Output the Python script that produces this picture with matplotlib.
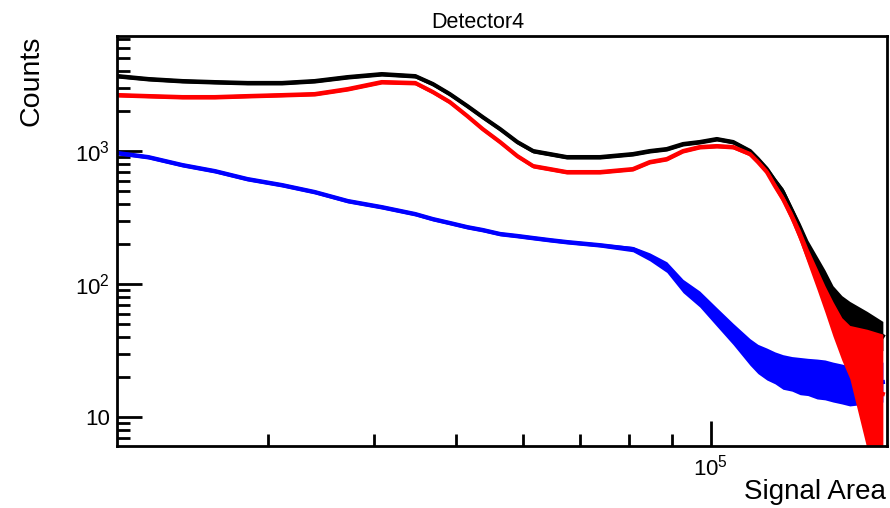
import numpy as np
import matplotlib
matplotlib.use('Agg')
import matplotlib.pyplot as plt
from matplotlib.ticker import FixedLocator, FuncFormatter, NullFormatter

plt.rcParams['font.family'] = ['Liberation Sans', 'DejaVu Sans']
plt.rcParams['mathtext.fontset'] = 'custom'
plt.rcParams['mathtext.rm'] = 'Liberation Sans'
plt.rcParams['mathtext.it'] = 'Liberation Sans'

# signal area (bin centres)
area = [19980, 21700, 23800, 26000, 28400, 31200, 34100, 37300, 40900, 44800,
        47000, 49200, 51600, 53800, 56400, 59100, 61700, 64600, 67600, 74000,
        80900, 84700, 88700, 92700, 97000, 101600, 106200, 111200, 113600, 116400,
        119000, 121600, 124600, 127400, 130100, 133400, 136300, 139300, 142700, 145800,
        152800, 159500]

black = [3660, 3480, 3360, 3300, 3250, 3250, 3360, 3600, 3790, 3660,
         3190, 2683, 2180, 1801, 1464, 1169, 1000, 949, 901, 901,
         949, 1000, 1035, 1129, 1169, 1231, 1169, 1000, 871, 732,
         595, 492, 354, 259, 190, 136, 103.5, 77.1, 64.9, 57.4,
         48.3, 40.6]
red = [2636, 2592, 2547, 2547, 2592, 2636, 2683, 2925, 3303, 3250,
       2778, 2336, 1833, 1464, 1169, 917, 771, 732, 695, 695,
       732, 827, 871, 1000, 1072, 1090, 1072, 949, 827, 695,
       545, 436, 319, 230, 162, 109, 77.1, 54.6, 38.6, 30.8,
       16.2, 14.9]
blue = [966, 901, 785, 707, 616, 555, 492, 421, 379, 336,
        308, 288, 268, 255, 238, 230, 222, 214, 207, 196,
        183, 160, 134, 96.6, 77.1, 56.5, 42.1, 30.8, 27.3, 25.0,
        23.4, 21.8, 21.1, 20.3, 20.0, 19.3, 19.0, 18.3, 17.7, 17.1,
        17.7, 18.3]

# visible scatter of the bins, in decades
black_spread = [0.015] * 29 + [0.02, 0.025, 0.03, 0.035, 0.045, 0.05, 0.075,
                               0.09, 0.1, 0.1, 0.11, 0.11, 0.11]
red_spread = [0.015] * 29 + [0.02, 0.025, 0.03, 0.04, 0.05, 0.06, 0.08,
                             0.1, 0.13, 0.16, 0.2, 0.45, 0.45]
blue_spread = [0.015] * 20 + [0.02, 0.03, 0.04, 0.05, 0.06, 0.07, 0.08, 0.1,
                              0.11, 0.12, 0.12, 0.13, 0.13, 0.14, 0.14, 0.15,
                              0.15, 0.15, 0.15, 0.15, 0.15, 0.15]


def band(ax, y, s, color):
    y = np.array(y, dtype=float)
    s = np.array(s, dtype=float)
    ax.fill_between(area, y / 10**s, y * 10**s, color=color, lw=0, zorder=2)
    ax.plot(area, y, color=color, lw=3, zorder=2)


fig = plt.figure(figsize=(8.9, 5.08), dpi=100)
ax = fig.add_axes([117/890, 1-446/508, 770/890, 410/508])

band(ax, blue, blue_spread, '#0000ff')
band(ax, black, black_spread, 'black')
band(ax, red, red_spread, '#ff0000')

ax.set_xscale('log')
ax.set_yscale('log')
ax.set_xlim(19930, 161300)
ax.set_ylim(6.05, 7330)

ax.xaxis.set_major_locator(FixedLocator([1e5]))
ax.xaxis.set_minor_locator(FixedLocator([3e4, 4e4, 5e4, 6e4, 7e4, 8e4, 9e4]))
ax.xaxis.set_major_formatter(FuncFormatter(lambda v, p: r'$10^{5}$'))
ax.xaxis.set_minor_formatter(NullFormatter())

ax.yaxis.set_major_locator(FixedLocator([10, 100, 1000]))
ax.yaxis.set_minor_locator(FixedLocator([7, 8, 9, 20, 30, 40, 50, 60, 70, 80, 90,
                                         200, 300, 400, 500, 600, 700, 800, 900,
                                         2000, 3000, 4000, 5000, 6000, 7000]))
ylabels = {10: '10', 100: r'$10^{2}$', 1000: r'$10^{3}$'}
ax.yaxis.set_major_formatter(FuncFormatter(lambda v, p: ylabels.get(int(round(v)), '')))
ax.yaxis.set_minor_formatter(NullFormatter())

ax.tick_params(which='both', direction='in', top=False, right=False, width=2,
               labelsize=16)
ax.tick_params(which='major', length=18)
ax.tick_params(which='minor', length=9)
ax.tick_params(axis='x', pad=6)
ax.tick_params(axis='y', pad=5)
for sp in ax.spines.values():
    sp.set_linewidth(2)

fig.text(478/890, 1-22/508, 'Detector4', ha='center', va='center', fontsize=15.5)
fig.text(32/890, 1-36/508, 'Counts', rotation=90, ha='center', va='top', fontsize=20.5)
fig.text(886/890, 1-492/508, 'Signal Area', ha='right', va='center', fontsize=20)

fig.savefig('out.png', dpi=100)
